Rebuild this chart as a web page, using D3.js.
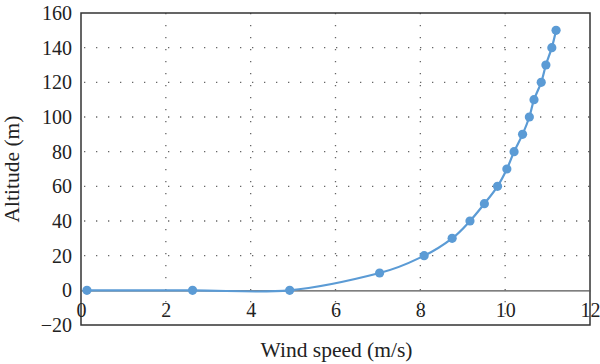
<!DOCTYPE html>
<html>
<head>
<meta charset="utf-8">
<script src="https://d3js.org/d3.v7.min.js"></script>
</head>
<body style="margin:0">
<script>
// wind speed (m/s) and altitude (m)
var speed = [0.14, 2.63, 4.92, 7.04, 8.09, 8.75, 9.17, 9.51, 9.82, 10.04, 10.21, 10.41, 10.57, 10.68, 10.85, 10.96, 11.1, 11.2];
var altitude = [0, 0, 0, 10, 20, 30, 40, 50, 60, 70, 80, 90, 100, 110, 120, 130, 140, 150];
var xTicks = [0, 2, 4, 6, 8, 10, 12];
var yTicks = [-20, 0, 20, 40, 60, 80, 100, 120, 140, 160];

var width = 600, height = 364;
var plotL = 81, plotR = 590, plotT = 13, plotB = 325;

var svg = d3.select("body").append("svg")
    .attr("width", width)
    .attr("height", height);

var x = d3.scaleLinear().domain([0, 12]).range([plotL, plotR]);
var y = d3.scaleLinear().domain([-20, 160]).range([plotB, plotT]);

// dotted grid
var grid = svg.append("g").attr("stroke", "#666").attr("stroke-width", 1.3)
    .attr("stroke-dasharray", "1.3,10.7").attr("stroke-linecap", "butt");
grid.selectAll(".hg").data(yTicks.filter(function(d){ return d > 0 && d < 160; }))
  .enter().append("line")
    .attr("x1", plotL + 3).attr("x2", plotR)
    .attr("y1", function(d){ return y(d); })
    .attr("y2", function(d){ return y(d); });
grid.selectAll(".vg").data(xTicks.filter(function(d){ return d > 0 && d < 12; }))
  .enter().append("line")
    .attr("x1", function(d){ return x(d); })
    .attr("x2", function(d){ return x(d); })
    .attr("y1", plotT).attr("y2", plotB);

// plot frame
svg.append("rect")
    .attr("x", plotL).attr("y", plotT)
    .attr("width", plotR - plotL).attr("height", plotB - plotT)
    .attr("fill", "none").attr("stroke", "#333").attr("stroke-width", 1.5);

// x axis crossing at zero
var xAxis = svg.append("g")
    .attr("transform", "translate(0," + y(0) + ")")
    .call(d3.axisBottom(x).tickValues(xTicks).tickSize(0).tickPadding(9));
xAxis.select(".domain").attr("stroke", "#555").attr("stroke-width", 1.2);
xAxis.selectAll(".tick text").attr("dy", "0.9em");

var yAxis = svg.append("g")
    .attr("transform", "translate(" + plotL + ",0)")
    .call(d3.axisLeft(y).tickValues(yTicks).tickSize(0).tickPadding(9)
      .tickFormat(function(d){ return d < 0 ? "\u2212" + Math.abs(d) : d; }));
yAxis.select(".domain").remove();

xAxis.attr("font-family", null).attr("font-size", null);
yAxis.attr("font-family", null).attr("font-size", null);
svg.selectAll(".tick text")
    .attr("fill", "#222")
    .attr("font-size", 20)
    .style("font-family", "'Liberation Serif', monospace");

var pts = speed.map(function(s, i){ return [s, altitude[i]]; });

var line = d3.line()
    .x(function(d){ return x(d[0]); })
    .y(function(d){ return y(d[1]); })
    .curve(d3.curveCatmullRom.alpha(0));

svg.append("path")
    .datum(pts)
    .attr("d", line)
    .attr("fill", "none")
    .attr("stroke", "#5b9bd5")
    .attr("stroke-width", 2.2);

svg.selectAll(".pt").data(pts)
  .enter().append("circle")
    .attr("cx", function(d){ return x(d[0]); })
    .attr("cy", function(d){ return y(d[1]); })
    .attr("r", 4.6)
    .attr("fill", "#5b9bd5");

svg.append("text")
    .attr("x", (plotL + plotR) / 2 + 1).attr("y", 357)
    .attr("text-anchor", "middle")
    .attr("font-size", 21.5)
    .style("font-family", "'Liberation Serif', monospace")
    .attr("fill", "#222")
    .text("Wind speed (m/s)");

svg.append("text")
    .attr("transform", "translate(19," + ((plotT + plotB) / 2) + ") rotate(-90)")
    .attr("text-anchor", "middle")
    .attr("font-size", 21.5)
    .style("font-family", "'Liberation Serif', monospace")
    .attr("fill", "#222")
    .text("Altitude (m)");
</script>
</body>
</html>
